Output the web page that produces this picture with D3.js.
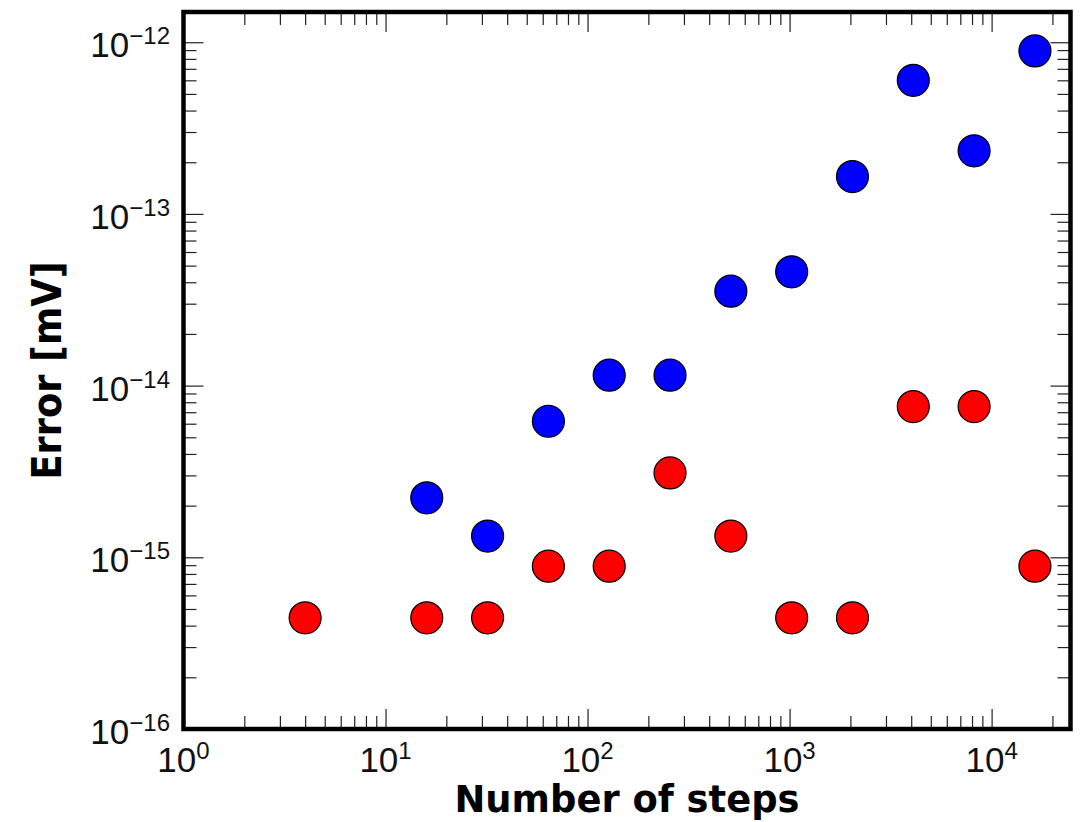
<!DOCTYPE html>
<html>
<head>
<meta charset="utf-8">
<script src="https://cdn.jsdelivr.net/npm/d3@7"></script>
<style>
  html, body { margin: 0; padding: 0; background: #fff; }
  svg { display: block; }
</style>
</head>
<body>
<svg id="chart" width="1088" height="822"></svg>
<script>
// dati
const blueSteps = [16, 32, 64, 128, 256, 512, 1024, 2048, 4096, 8192, 16384];
const blueErr = [2.22e-15, 1.33e-15, 6.2e-15, 1.15e-14, 1.15e-14, 3.55e-14, 4.6e-14, 1.65e-13, 6.0e-13, 2.33e-13, 8.9e-13];

const redSteps = [4, 16, 32, 64, 128, 256, 512, 1024, 2048, 4096, 8192, 16384];
const redErr = [4.44e-16, 4.44e-16, 4.44e-16, 8.88e-16, 8.88e-16, 3.1e-15, 1.33e-15, 4.44e-16, 4.44e-16, 7.55e-15, 7.55e-15, 8.88e-16];

const xMajor = [1, 10, 100, 1000, 10000];
const xMajorExp = ["0", "1", "2", "3", "4"];
const yMajor = [1e-16, 1e-15, 1e-14, 1e-13, 1e-12];
const yMajorExp = ["\u221216", "\u221215", "\u221214", "\u221213", "\u221212"];

const xLabel = "Number of steps";
const yLabel = "Error [mV]";

// area del grafico
const plotLeft = 183.5, plotRight = 1070.5, plotTop = 12, plotBottom = 729;

const svg = d3.select('#chart');

const x = d3.scaleLog().domain([1, 24576]).range([plotLeft, plotRight]);
const y = d3.scaleLog().domain([1e-16, 1.5e-12]).range([plotBottom, plotTop]);

// tacche minori (2..9 per ogni decade)
const xMinor = [];
for (let d = 1; d <= 10000; d *= 10)
    for (let k = 2; k <= 9; k++) if (d * k < 24576) xMinor.push(d * k);
const yMinor = [];
for (let e = -16; e <= -13; e++)
    for (let k = 2; k <= 9; k++) yMinor.push(k * Math.pow(10, e));

const tickColor = '#222';
const majorLen = 20, minorLen = 13;

function styleAxis(g) {
    g.select('.domain').remove();
    g.selectAll('line').attr('stroke', tickColor).attr('stroke-width', 1.2);
    g.selectAll('text').remove();
}

// assi inferiori e superiori
svg.append('g').attr('transform', `translate(0,${plotBottom})`)
    .call(d3.axisBottom(x).tickValues(xMajor).tickSize(-majorLen)).call(styleAxis);
svg.append('g').attr('transform', `translate(0,${plotBottom})`)
    .call(d3.axisBottom(x).tickValues(xMinor).tickSize(-minorLen)).call(styleAxis);
svg.append('g').attr('transform', `translate(0,${plotTop})`)
    .call(d3.axisTop(x).tickValues(xMajor).tickSize(-majorLen)).call(styleAxis);
svg.append('g').attr('transform', `translate(0,${plotTop})`)
    .call(d3.axisTop(x).tickValues(xMinor).tickSize(-minorLen)).call(styleAxis);

// assi sinistro e destro
svg.append('g').attr('transform', `translate(${plotLeft},0)`)
    .call(d3.axisLeft(y).tickValues(yMajor).tickSize(-majorLen)).call(styleAxis);
svg.append('g').attr('transform', `translate(${plotLeft},0)`)
    .call(d3.axisLeft(y).tickValues(yMinor).tickSize(-minorLen)).call(styleAxis);
svg.append('g').attr('transform', `translate(${plotRight},0)`)
    .call(d3.axisRight(y).tickValues(yMajor).tickSize(-majorLen)).call(styleAxis);
svg.append('g').attr('transform', `translate(${plotRight},0)`)
    .call(d3.axisRight(y).tickValues(yMinor).tickSize(-minorLen)).call(styleAxis);

// punti
const pts = svg.append('g');
pts.selectAll('.red')
    .data(redSteps.map((s, i) => ({ s, e: redErr[i] })))
    .enter().append('circle')
    .attr('class', 'red')
    .attr('cx', d => x(d.s))
    .attr('cy', d => y(d.e))
    .attr('r', 16)
    .style('fill', '#ff0000')
    .style('stroke', '#000')
    .style('stroke-width', 1.2);
pts.selectAll('.blue')
    .data(blueSteps.map((s, i) => ({ s, e: blueErr[i] })))
    .enter().append('circle')
    .attr('class', 'blue')
    .attr('cx', d => x(d.s))
    .attr('cy', d => y(d.e))
    .attr('r', 16)
    .style('fill', '#0000ff')
    .style('stroke', '#000')
    .style('stroke-width', 1.2);

// cornice spessa
svg.append('rect')
    .attr('x', plotLeft).attr('y', plotTop)
    .attr('width', plotRight - plotLeft).attr('height', plotBottom - plotTop)
    .style('fill', 'none')
    .style('stroke', '#000')
    .style('stroke-width', 4.5);

const font = '"Liberation Sans", Arial, sans-serif';

// etichette asse X
xMajor.forEach((v, i) => {
    const t = svg.append('text')
        .attr('x', x(v))
        .attr('y', 772)
        .attr('text-anchor', 'middle')
        .style('font-family', font)
        .style('font-size', '35px')
        .style('fill', '#111');
    t.append('tspan').text('10');
    t.append('tspan').attr('dy', -13).style('font-size', '24px').text(xMajorExp[i]);
});

// etichette asse Y
yMajor.forEach((v, i) => {
    const t = svg.append('text')
        .attr('x', 170)
        .attr('y', y(v) + 15)
        .attr('text-anchor', 'end')
        .style('font-family', font)
        .style('font-size', '35px')
        .style('fill', '#111');
    t.append('tspan').text('10');
    t.append('tspan').attr('dy', -13).style('font-size', '24px').text(yMajorExp[i]);
});

// titoli degli assi
svg.append('text')
    .attr('x', (plotLeft + plotRight) / 2)
    .attr('y', 812)
    .attr('text-anchor', 'middle')
    .attr('textLength', 345)
    .attr('lengthAdjust', 'spacingAndGlyphs')
    .style('font-family', '"DejaVu Sans", sans-serif')
    .style('font-weight', 'bold')
    .style('font-size', '37px')
    .style('fill', '#000')
    .text(xLabel);

svg.append('text')
    .attr('transform', `translate(61,${(plotTop + plotBottom) / 2}) rotate(-90)`)
    .attr('text-anchor', 'middle')
    .attr('textLength', 218)
    .attr('lengthAdjust', 'spacingAndGlyphs')
    .style('font-family', '"DejaVu Sans", sans-serif')
    .style('font-weight', 'bold')
    .style('font-size', '40px')
    .style('fill', '#000')
    .text(yLabel);
</script>
</body>
</html>
